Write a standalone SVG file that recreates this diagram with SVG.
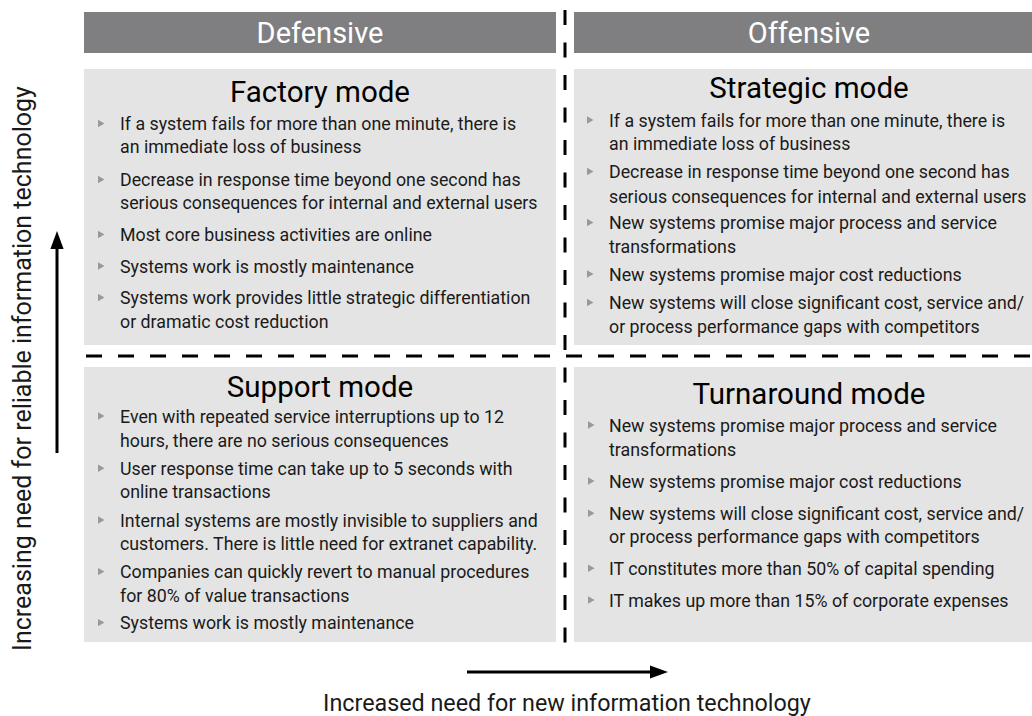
<svg xmlns="http://www.w3.org/2000/svg" width="1032" height="716" viewBox="0 0 1032 716">
<defs>
<style>
.hdr{fill:#7f7f82}
.box{fill:#e4e4e4}
.hdrt{font-family:Roboto,"Liberation Sans",sans-serif;font-size:29px;fill:#fff;text-anchor:middle}
.ttl{font-family:Roboto,"Liberation Sans",sans-serif;font-size:29.5px;fill:#000;text-anchor:middle}
.bt{font-family:Roboto,"Liberation Sans",sans-serif;font-size:17.8px;fill:#1a1a1a}
.ax{font-family:Roboto,"Liberation Sans",sans-serif;fill:#1a1a1a;text-anchor:middle}
.dash{stroke:#000;stroke-width:3;fill:none}
.tri{fill:#999}
</style>
<path id="tri" class="tri" d="M0,-3.7 L6.5,0 L0,3.7 Z"/>
<marker id="ah" markerWidth="6" markerHeight="4.4" refX="1" refY="2.2" orient="auto" markerUnits="strokeWidth"><path d="M0,0 L6,2.2 L0,4.4 Z" fill="#000"/></marker>
</defs>
<rect width="1032" height="716" fill="#fff"/>

<g id="hdr-defensive">
<rect class="hdr" x="84" y="12" width="472" height="41"/>
<text class="hdrt" x="320" y="43">Defensive</text>
</g>
<g id="hdr-offensive">
<rect class="hdr" x="574" y="12" width="458" height="41"/>
<text class="hdrt" x="809" y="43">Offensive</text>
</g>

<g id="factory">
<rect class="box" x="84" y="69" width="472" height="276"/>
<text class="ttl" x="320" y="102">Factory mode</text>
<use href="#tri" x="98" y="123.5"/>
<use href="#tri" x="98" y="179.5"/>
<use href="#tri" x="98" y="234.5"/>
<use href="#tri" x="98" y="266"/>
<use href="#tri" x="98" y="297.5"/>
<text class="bt" x="120" y="130">If a system fails for more than one minute, there is</text>
<text class="bt" x="120" y="153.3">an immediate loss of business</text>
<text class="bt" x="120" y="186">Decrease in response time beyond one second has</text>
<text class="bt" x="120" y="209.3">serious consequences for internal and external users</text>
<text class="bt" x="120" y="241">Most core business activities are online</text>
<text class="bt" x="120" y="272.7">Systems work is mostly maintenance</text>
<text class="bt" x="120" y="304.3">Systems work provides little strategic differentiation</text>
<text class="bt" x="120" y="328.3">or dramatic cost reduction</text>
</g>

<g id="strategic">
<rect class="box" x="574" y="69" width="458" height="276"/>
<text class="ttl" x="809" y="98.3">Strategic mode</text>
<use href="#tri" x="587" y="120"/>
<use href="#tri" x="587" y="171.5"/>
<use href="#tri" x="587" y="222.5"/>
<use href="#tri" x="587" y="274"/>
<use href="#tri" x="587" y="302.5"/>
<text class="bt" x="609" y="126.7">If a system fails for more than one minute, there is</text>
<text class="bt" x="609" y="150">an immediate loss of business</text>
<text class="bt" x="609" y="178.3">Decrease in response time beyond one second has</text>
<text class="bt" x="609" y="202.7">serious consequences for internal and external users</text>
<text class="bt" x="609" y="229.3">New systems promise major process and service</text>
<text class="bt" x="609" y="253.3">transformations</text>
<text class="bt" x="609" y="280.7">New systems promise major cost reductions</text>
<text class="bt" x="609" y="309.3">New systems will close significant cost, service and/</text>
<text class="bt" x="609" y="333.3">or process performance gaps with competitors</text>
</g>

<g id="support">
<rect class="box" x="84" y="367" width="472" height="275"/>
<text class="ttl" x="320" y="397.3">Support mode</text>
<use href="#tri" x="98" y="416"/>
<use href="#tri" x="98" y="468.3"/>
<use href="#tri" x="98" y="520"/>
<use href="#tri" x="98" y="571.6"/>
<use href="#tri" x="98" y="622.6"/>
<text class="bt" x="120" y="422.7">Even with repeated service interruptions up to 12</text>
<text class="bt" x="120" y="446.7">hours, there are no serious consequences</text>
<text class="bt" x="120" y="475">User response time can take up to 5 seconds with</text>
<text class="bt" x="120" y="498.3">online transactions</text>
<text class="bt" x="120" y="526.7">Internal systems are mostly invisible to suppliers and</text>
<text class="bt" x="120" y="550">customers. There is little need for extranet capability.</text>
<text class="bt" x="120" y="578.3">Companies can quickly revert to manual procedures</text>
<text class="bt" x="120" y="601.7">for 80% of value transactions</text>
<text class="bt" x="120" y="629.3">Systems work is mostly maintenance</text>
</g>

<g id="turnaround">
<rect class="box" x="574" y="367" width="458" height="275"/>
<text class="ttl" x="809" y="404.3">Turnaround mode</text>
<use href="#tri" x="588" y="425"/>
<use href="#tri" x="588" y="481"/>
<use href="#tri" x="588" y="513.3"/>
<use href="#tri" x="588" y="568.3"/>
<use href="#tri" x="588" y="600"/>
<text class="bt" x="609" y="431.7">New systems promise major process and service</text>
<text class="bt" x="609" y="455.7">transformations</text>
<text class="bt" x="609" y="487.7">New systems promise major cost reductions</text>
<text class="bt" x="609" y="520">New systems will close significant cost, service and/</text>
<text class="bt" x="609" y="543.3">or process performance gaps with competitors</text>
<text class="bt" x="609" y="575">IT constitutes more than 50% of capital spending</text>
<text class="bt" x="609" y="606.7">IT makes up more than 15% of corporate expenses</text>
</g>

<g id="connectors">
<line class="dash" x1="86" y1="356" x2="1032" y2="356" stroke-dasharray="16 16"/>
<line class="dash" x1="565" y1="10" x2="565" y2="645" stroke-dasharray="15 17.5"/>
<line x1="57" y1="453" x2="57" y2="246" stroke="#000" stroke-width="3" marker-end="url(#ah)"/>
<line x1="467" y1="672" x2="653" y2="672" stroke="#000" stroke-width="3" marker-end="url(#ah)"/>
</g>

<g id="axis-labels">
<text class="ax" style="font-size:25px" transform="translate(31,368.5) rotate(-90)">Increasing need for reliable information technology</text>
<text class="ax" style="font-size:23.3px" x="567" y="711">Increased need for new information technology</text>
</g>
</svg>
